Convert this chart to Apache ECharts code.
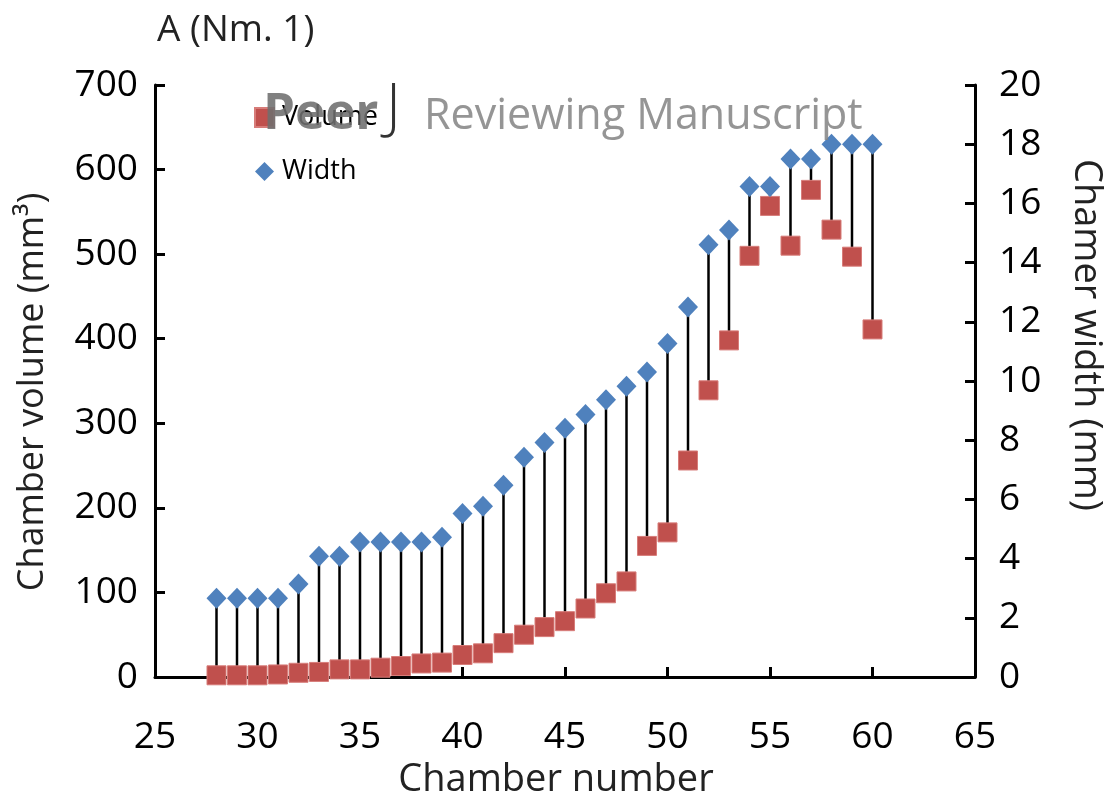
<!DOCTYPE html>
<html>
<head>
<meta charset="utf-8">
<script src="https://cdn.jsdelivr.net/npm/echarts@6/dist/echarts.min.js"></script>
<style>
  html, body { margin: 0; padding: 0; background: #fff; }
  #chart { width: 1113px; height: 796px; }
</style>
</head>
<body>
<div id="chart"></div>
<script>
// ---- Data ----
const chambers = [28, 29, 30, 31, 32, 33, 34, 35, 36, 37, 38, 39, 40, 41, 42, 43, 44,
                  45, 46, 47, 48, 49, 50, 51, 52, 53, 54, 55, 56, 57, 58, 59, 60];
const volume = [2, 2, 2, 3, 5, 6, 9, 9, 11, 13, 16, 17, 26, 28, 40, 50, 59,
                66, 81, 99, 113, 155, 171, 256, 339, 398, 498, 557, 510, 576, 529, 497, 411];
const widthMm = [2.66, 2.66, 2.66, 2.66, 3.14, 4.08, 4.08, 4.56, 4.56, 4.56, 4.56, 4.72, 5.52, 5.77, 6.48, 7.42, 7.92,
                 8.4, 8.87, 9.37, 9.82, 10.3, 11.27, 12.5, 14.6, 15.1, 16.57, 16.57, 17.5, 17.5, 18, 18, 18];
const xTicks = { min: 25, max: 65, interval: 5 };
const yLeftTicks = { min: 0, max: 700, interval: 100 };
const yRightTicks = { min: 0, max: 20, interval: 2 };

const FONT = '"Open Sans", "Noto Sans", sans-serif';
const axisRatio = yLeftTicks.max / yRightTicks.max;

const volumeData = chambers.map((c, i) => [c, volume[i]]);
const widthData = chambers.map((c, i) => [c, widthMm[i]]);
const linkData = chambers.map((c, i) => [c, volume[i], widthMm[i]]);

const chart = echarts.init(document.getElementById('chart'), null, { renderer: 'canvas' });

const axisLine = { show: true, onZero: false, lineStyle: { color: '#000', width: 3 } };
const axisTick = { show: true, inside: true, length: 10, lineStyle: { color: '#000', width: 3 } };

chart.setOption({
  animation: false,
  backgroundColor: '#fff',
  title: {
    text: 'A (Nm. 1)',
    left: 152, top: 7,
    textStyle: { fontFamily: FONT, fontSize: 37, fontWeight: 'normal', color: '#222' }
  },
  legend: {
    orient: 'vertical',
    left: 249, top: 99,
    itemWidth: 19, itemHeight: 19,
    itemGap: 27,
    textStyle: { fontFamily: FONT, fontSize: 27, color: '#000', padding: [0, 0, 0, 3] },
    data: [
      { name: 'Volume', icon: 'rect' },
      { name: 'Width', icon: 'diamond' }
    ]
  },
  grid: { left: 155, right: 138, top: 85, bottom: 119, containLabel: false, outerBoundsMode: 'none' },
  xAxis: {
    type: 'value',
    min: xTicks.min, max: xTicks.max, interval: xTicks.interval,
    name: 'Chamber number',
    nameLocation: 'middle',
    nameGap: 73,
    nameTextStyle: { fontFamily: FONT, fontSize: 38, color: '#222', padding: [0, 18, 0, 0] },
    axisLine, axisTick,
    splitLine: { show: false },
    axisLabel: { fontFamily: FONT, fontSize: 37, color: '#000', margin: 42 }
  },
  yAxis: [
    {
      type: 'value', position: 'left',
      min: yLeftTicks.min, max: yLeftTicks.max, interval: yLeftTicks.interval,
      name: 'Chamber volume (mm³)',
      nameLocation: 'middle',
      nameGap: 104,
      nameTextStyle: { fontFamily: FONT, fontSize: 36, color: '#222', padding: [0, 22, 0, 0] },
      axisLine, axisTick,
      splitLine: { show: false },
      axisLabel: { fontFamily: FONT, fontSize: 37, color: '#000', margin: 17 }
    },
    {
      type: 'value', position: 'right',
      min: yRightTicks.min, max: yRightTicks.max, interval: yRightTicks.interval,
      name: 'Chamer width (mm)',
      nameLocation: 'middle',
      nameRotate: -90,
      nameGap: 92,
      nameTextStyle: { fontFamily: FONT, fontSize: 38, color: '#222', padding: [0, 92, 0, 0] },
      axisLine, axisTick,
      splitLine: { show: false },
      axisLabel: { fontFamily: FONT, fontSize: 37, color: '#000', margin: 24 }
    }
  ],
  series: [
    {
      type: 'custom',
      name: 'links',
      xAxisIndex: 0, yAxisIndex: 0,
      z: 1,
      silent: true,
      data: linkData,
      encode: { x: 0, y: 1 },
      renderItem: function (params, api) {
        const x = api.value(0);
        const p1 = api.coord([x, api.value(1)]);
        const p2 = api.coord([x, api.value(2) * axisRatio]);
        return {
          type: 'line',
          shape: { x1: p1[0], y1: p1[1], x2: p2[0], y2: p2[1] },
          style: { stroke: '#000', lineWidth: 2.5 }
        };
      }
    },
    {
      type: 'scatter',
      name: 'Volume',
      xAxisIndex: 0, yAxisIndex: 0,
      z: 3,
      symbol: 'rect',
      symbolSize: 19,
      itemStyle: { color: '#C0504D', borderColor: '#D77C79', borderWidth: 1, opacity: 1 },
      data: volumeData
    },
    {
      type: 'scatter',
      name: 'Width',
      xAxisIndex: 0, yAxisIndex: 1,
      z: 4,
      symbol: 'diamond',
      symbolSize: [20, 21],
      itemStyle: { color: '#4F81BD', opacity: 1 },
      data: widthData
    }
  ],
  graphic: [
    {
      type: 'text', left: 263, top: 89, z: 100,
      style: { text: 'Peer', fontFamily: FONT, fontSize: 51, fontWeight: 'bold', fill: 'rgba(110,110,110,0.88)' }
    },
    {
      type: 'text', left: 386, top: 80, z: 100,
      style: { text: 'J', fontFamily: FONT, fontSize: 60, fontWeight: 300, fill: '#333' }
    },
    {
      type: 'text', left: 424, top: 95, z: 100,
      style: { text: 'Reviewing Manuscript', fontFamily: FONT, fontSize: 43, fill: 'rgba(130,130,130,0.85)' }
    }
  ]
});
</script>
</body>
</html>
